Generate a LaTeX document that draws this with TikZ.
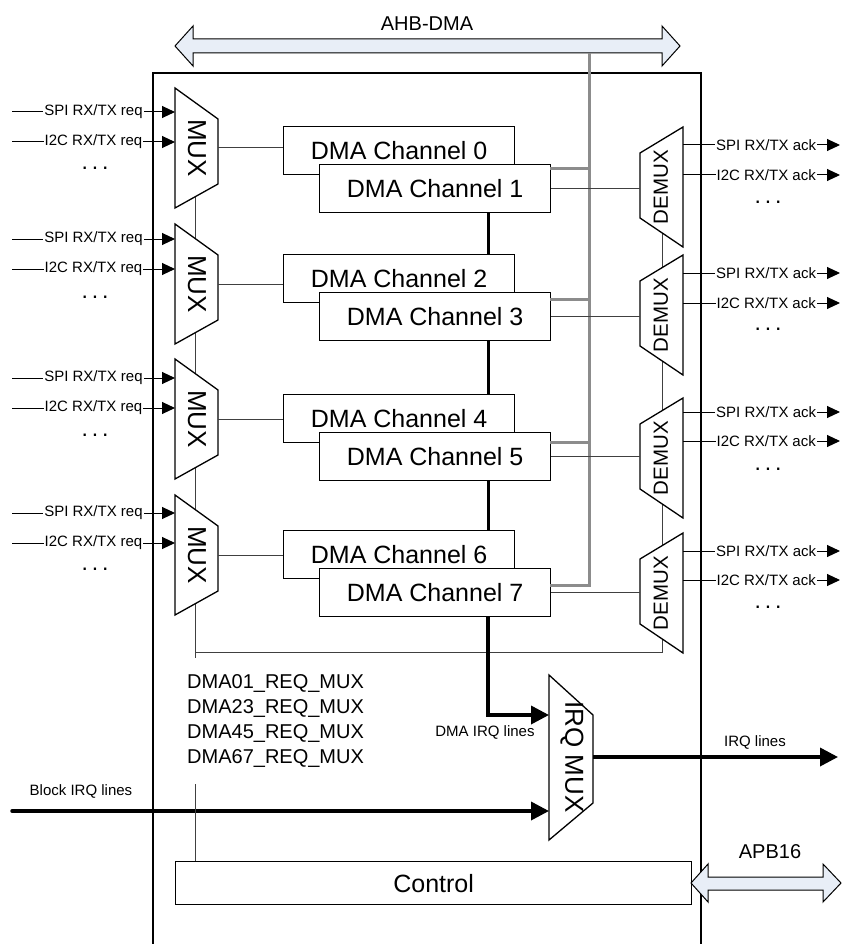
\documentclass[tikz,border=0pt]{standalone}
\usepackage{fontspec}
\setmainfont{Liberation Sans}
\usetikzlibrary{arrows.meta}
\definecolor{busblue}{RGB}{232,238,247}
\definecolor{busgrey}{RGB}{140,140,140}
\tikzset{
  chbox/.style={draw, line width=1.3pt, fill=white, minimum width=231pt, minimum height=48pt,
    anchor=north west, inner sep=0pt, font=\fontsize{25}{30}\selectfont},
  ctrlbox/.style={draw, line width=1.3pt, fill=white, minimum width=516pt, minimum height=43pt,
    anchor=north west, inner sep=0pt, font=\fontsize{25}{30}\selectfont},
  muxshape/.style={draw, line width=1.3pt, fill=white, line join=miter},
  muxtext/.style={inner sep=0pt, font=\fontsize{26}{26}\selectfont},
  demuxtext/.style={inner sep=0pt, font=\fontsize{20.5}{20.5}\selectfont},
  thinline/.style={line width=1pt, draw=black!75},
  inarrow/.style={line width=1pt, draw=black, -{Triangle[length=13pt,width=12pt]}},
  bigarrow/.style={line width=3.5pt, line join=miter, -{Triangle[length=18pt,width=18pt]}},
  chain/.style={line width=3pt},
  busline/.style={line width=3pt, draw=busgrey, line join=miter},
  small/.style={inner sep=0pt, font=\fontsize{15}{15}\selectfont},
  gaplabel/.style={small, fill=white, inner xsep=1pt, inner ysep=1pt},
  big/.style={inner sep=0pt, font=\fontsize{20}{20}\selectfont},
  reqtext/.style={anchor=west, inner sep=0pt, font=\fontsize{20}{20}\selectfont},
  dotstext/.style={inner sep=0pt, font=\fontsize{23}{23}\selectfont},
  busfill/.style={draw, line width=1pt, fill=busblue, line join=miter},
  outerbox/.style={line width=2.6pt},
}
\begin{document}
\begin{tikzpicture}[x=1pt, y=-1pt]
\useasboundingbox (0,0) rectangle (842,944);

% ---------- outer block ----------
\draw[outerbox] (153,944) -- (153,73) -- (701,73) -- (701,944);

% ---------- AHB-DMA bus ----------
\draw[busfill] (175,46) -- (193,26) -- (193,39) -- (662,39) -- (662,26) -- (680,46)
  -- (662,66) -- (662,53) -- (193,53) -- (193,66) -- cycle;
\node[big] (ahbl) at (427,24) {AHB-DMA};
\coordinate (ahbb) at (589,53);

% ---------- column lines behind the muxes ----------
\coordinate (mc) at (195,150);
\coordinate (mb) at (195,658);
\coordinate (dc) at (662,187);
\coordinate (jn) at (662,652);
\draw[thinline] (mc) -- (mb);
\draw[thinline] (dc) -- (jn) -- (jn -| mc);

% ---------- DMA channels ----------
\foreach \i/\T in {0/126,1/254,2/394,3/530} {
  \pgfmathtruncatemacro\ev{2*\i}
  \node[chbox] (c\ev) at (283,\T) {DMA Channel \ev};
}
\foreach \i/\T in {0/126,1/254,2/394,3/530} {
  \pgfmathtruncatemacro\od{2*\i+1}
  \node[chbox] (c\od) at (319,\T+38) {DMA Channel \od};
}

% chain between channels
\coordinate (chx) at (488,0);
\draw[chain] (chx |- c1.south) -- (chx |- c2.north);
\draw[chain] (chx |- c3.south) -- (chx |- c4.north);
\draw[chain] (chx |- c5.south) -- (chx |- c6.north);

% grey bus to AHB
\coordinate (g1) at (550,169);
\coordinate (g3) at (550,299);
\coordinate (g5) at (550,442);
\coordinate (g7) at (550,585);
\draw[busline] (g7) -- (g7 -| ahbb) -- (ahbb);
\draw[busline] (g1) -- (g1 -| ahbb);
\draw[busline] (g3) -- (g3 -| ahbb);
\draw[busline] (g5) -- (g5 -| ahbb);

% ---------- request MUXes ----------
\foreach \k/\M/\a/\b/\d/\ch in {1/88/112/142/168/0, 2/224/239/269/297/2, 3/359/378/408/435/4, 4/495/513/543/569/6} {
  \draw[muxshape] (175,\M) -- (218,\M+31) -- (218,\M+96) -- (175,\M+120) -- cycle;
  \node[muxtext, rotate=-90] (mux\k) at (197,\M+60) {MUX};
  \coordinate (mo\k) at (218,\M+60);
  \draw[thinline] (mo\k) -- (mo\k -| c\ch.west);
  \coordinate (ia\k) at (12,\a);
  \coordinate (ib\k) at (12,\b);
  \coordinate (ta\k) at (175,\a);
  \coordinate (tb\k) at (175,\b);
  \draw[inarrow] (ia\k) -- node[gaplabel] (la\k) {SPI RX/TX req} (ta\k);
  \draw[inarrow] (ib\k) -- node[gaplabel] (lb\k) {I2C RX/TX req} (tb\k);
  \node[dotstext] (dl\k) at (95,\d) {.\,.\,.};
}

% ---------- acknowledge DEMUXes ----------
\foreach \k/\D/\a/\b/\d/\ch in {1/127/145/175/202/1, 2/255/273/303/329/3, 3/398/412/441/469/5, 4/533/551/580/607/7} {
  \draw[muxshape] (683,\D) -- (683,\D+120) -- (640,\D+91) -- (640,\D+26) -- cycle;
  \node[demuxtext, rotate=90] (dmx\k) at (661,\D+60) {DEMUX};
  \coordinate (di\k) at (640,\D+60);
  \draw[thinline] (c\ch.east) -- (c\ch.east -| di\k);
  \coordinate (oa\k) at (683,\a);
  \coordinate (ob\k) at (683,\b);
  \coordinate (ea\k) at (840,\a);
  \coordinate (eb\k) at (840,\b);
  \draw[inarrow] (oa\k) -- node[gaplabel, pos=0.53] (ka\k) {SPI RX/TX ack} (ea\k);
  \draw[inarrow] (ob\k) -- node[gaplabel, pos=0.53] (kb\k) {I2C RX/TX ack} (eb\k);
  \node[dotstext] (dr\k) at (768,\d) {.\,.\,.};
}

% ---------- REQ MUX register names ----------
\node[reqtext] (r1) at (187,683) {DMA01\_REQ\_MUX};
\node[reqtext] (r2) at (187,708) {DMA23\_REQ\_MUX};
\node[reqtext] (r3) at (187,733) {DMA45\_REQ\_MUX};
\node[reqtext] (r4) at (187,758) {DMA67\_REQ\_MUX};

% ---------- IRQ MUX ----------
\draw[muxshape] (549,675) -- (593,715) -- (593,803) -- (549,840) -- cycle;
\node[muxtext, rotate=-90] (irq) at (572,757) {IRQ MUX};
\coordinate (irqa) at (549,715);
\coordinate (irqb) at (549,811);
\coordinate (irqo) at (593,757);
\coordinate (irqe) at (838,757);
\coordinate (blk) at (12,811);
\draw[bigarrow] (chx |- c7.south) -- (chx |- irqa) -- (irqa);
\draw[bigarrow, line cap=round] (blk) -- (irqb);
\draw[bigarrow] (irqo) -- (irqe);
\node[small] (ldma) at (485,732) {DMA IRQ lines};
\node[small] (lblk) at (81,791) {Block IRQ lines};
\node[small] (lirq) at (755,742) {IRQ lines};

% ---------- Control ----------
\node[ctrlbox] (ctrl) at (175,861) {Control};
\coordinate (cl) at (195,784);
\draw[thinline] (cl) -- (cl |- ctrl.north);

% ---------- APB16 ----------
\draw[busfill] (691,883) -- (708,864) -- (708,877) -- (823,877) -- (823,864) -- (841,883)
  -- (823,902) -- (823,890) -- (708,890) -- (708,902) -- cycle;
\node[big] (apbl) at (770,852) {APB16};
\end{tikzpicture}
\end{document}
